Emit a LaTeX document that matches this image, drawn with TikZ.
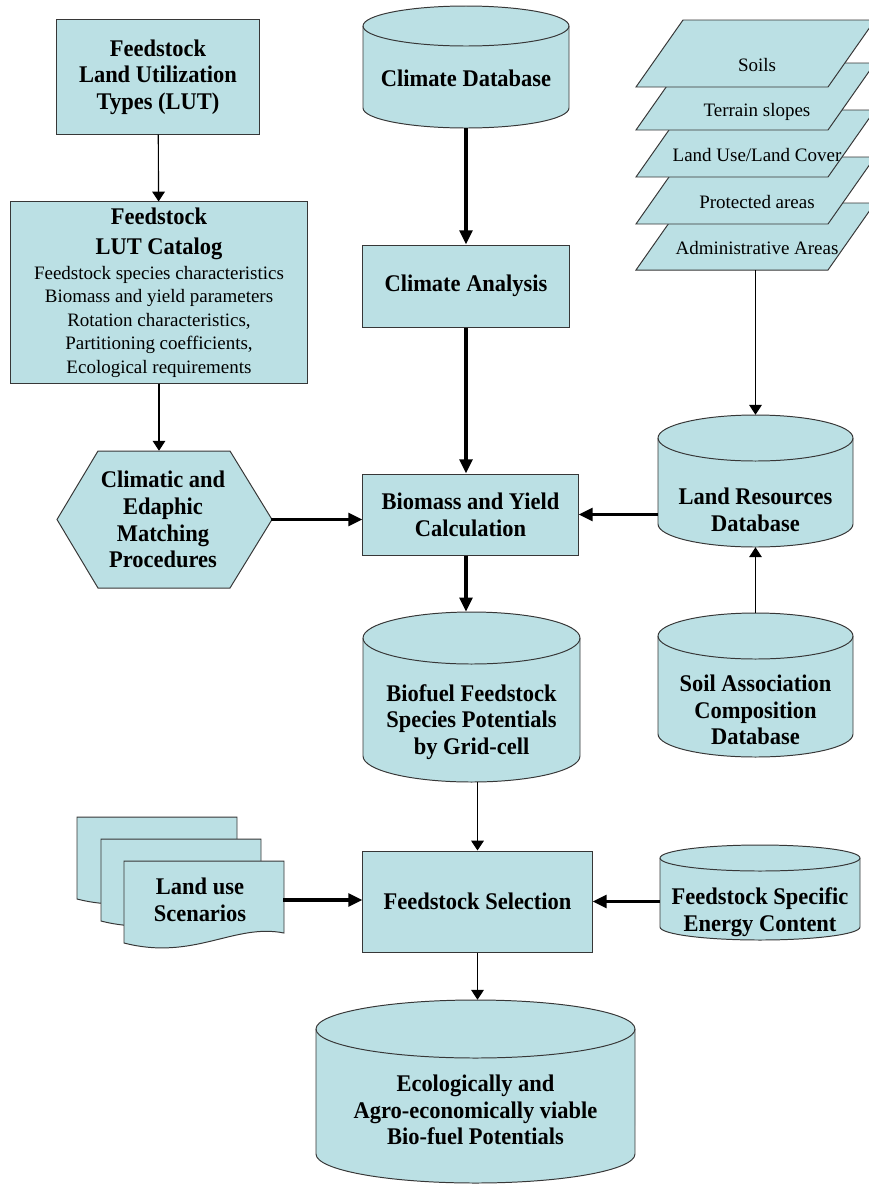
\documentclass[tikz,border=0pt]{standalone}
\usepackage{fontspec}
\setmainfont{Liberation Serif}
\newfontfamily\narrowserif[FakeStretch=0.94]{Liberation Serif}
\usetikzlibrary{arrows.meta}

\definecolor{boxfill}{RGB}{187,224,228}
\definecolor{edgegray}{RGB}{55,55,55}
\newcommand\ttlfont{\narrowserif\bfseries\fontsize{17}{19}\selectfont}
\newcommand\listfont{\normalfont\fontsize{13.5}{16.7}\selectfont}

\tikzset{
  box/.style={draw=edgegray, fill=boxfill, line width=0.7pt, align=center, font=\ttlfont},
  drumline/.style={draw=edgegray, line width=0.7pt},
  drumtext/.style={align=center, font=\ttlfont},
  layer/.style={draw=edgegray, fill=boxfill, line width=0.7pt},
  arr/.style={line width=0.8pt, -{Triangle[length=7pt,width=9pt]}},
  tarr/.style={line width=2.8pt, -{Triangle[length=10pt,width=9pt]}}
}

% drum: name, centre x, centre y, width, height, end radius (px)
\newcommand\drum[6]{%
  \filldraw[drumline, fill=boxfill] (#2-#4/2,#3-#5/2+#6) -- (#2-#4/2,#3+#5/2-#6)
    arc[start angle=180, end angle=360, x radius=#4*0.0125cm, y radius=#6*0.025cm]
    -- (#2+#4/2,#3-#5/2+#6)
    arc[start angle=0, end angle=180, x radius=#4*0.0125cm, y radius=#6*0.025cm] -- cycle;
  \draw[drumline] (#2-#4/2,#3-#5/2+#6)
    arc[start angle=180, end angle=360, x radius=#4*0.0125cm, y radius=#6*0.025cm];
  \node[inner sep=0pt, minimum width=#4*0.025cm, minimum height=#5*0.025cm] (#1) at (#2,#3) {};
}

\begin{document}
\begin{tikzpicture}[x=0.025cm, y=-0.025cm]
    \useasboundingbox (0,0) rectangle (869,1186);

    % left column
    \node[box, minimum width=5.05cm, minimum height=2.85cm] (lut) at (158,77) {Feedstock\\Land Utilization\\Types (LUT)};
    \node[box, minimum width=7.4cm, minimum height=4.525cm] (cat) at (159,292.5)
      {Feedstock\\[2.3pt] LUT Catalog\\[-1.2pt] \listfont Feedstock species characteristics\\[-2.3pt] \listfont Biomass and yield parameters\\[-2.3pt]
       \listfont Rotation characteristics,\\[-2.3pt] \listfont Partitioning coefficients,\\[-2.3pt] \listfont Ecological requirements};
    \draw[layer] (57,519.5) -- (98,451) -- (230,451) -- (272,519.5) -- (230,588) -- (98,588) -- cycle;
    \node[drumtext, minimum width=5.375cm, minimum height=3.425cm] (match) at (163,519.5) {Climatic and\\Edaphic\\Matching\\Procedures};

    % middle column
    \drum{climdb}{466}{67}{206}{122}{20}
    \node[drumtext] (climdbtxt) at (466,78) {Climate Database};
    \node[box, minimum width=5.15cm, minimum height=2.05cm] (climan) at (466,286) {Climate Analysis};
    \node[box, minimum width=5.375cm, minimum height=2.025cm] (bio) at (470.5,514.5) {Biomass and Yield\\Calculation};
    \drum{biof}{471.5}{697}{217}{170}{26}
    \node[drumtext] (bioftxt) at (471.5,722) {Biofuel Feedstock\\Species Potentials\\by Grid-cell};
    \node[box, minimum width=5.725cm, minimum height=2.525cm] (fs) at (477.5,901.5) {Feedstock Selection};
    \drum{eco}{475.5}{1091.5}{319}{183}{29}
    \node[drumtext] (ecotxt) at (475.5,1110) {Ecologically and\\Agro-economically viable\\Bio-fuel Potentials};

    % right column
    \foreach \n/\ty/\dy/\txt in {admin/203/45/Administrative Areas, prot/157/45/Protected areas,
                                luse/110/45/{Land Use/Land Cover}, terr/63/49/Terrain slopes, soils/20/45/Soils} {
      \draw[layer] (636,\ty+67) -- (828,\ty+67) -- (875,\ty) -- (683,\ty) -- cycle;
      \node[font=\listfont] (\n) at (757,\ty+\dy) {\txt};
    }
    \coordinate (adminbase) at (755.5,270);
    \drum{lres}{755.5}{481}{195}{132}{23}
    \node[drumtext] (lrestxt) at (755.5,510) {Land Resources\\Database};
    \drum{soil}{755.5}{685}{195}{144}{23}
    \node[drumtext] (soiltxt) at (755.5,710) {Soil Association\\Composition\\Database};
    \drum{energy}{760}{892.5}{200}{95}{13}
    \node[drumtext] (energytxt) at (760,912) {Feedstock Specific\\Energy Content};

    % scenarios
    \foreach \x/\y in {77/817, 101/839, 124/861} {
      \draw[layer] (\x,\y) -- (\x+160,\y) -- (\x+160,\y+72) .. controls (\x+110,\y+62) and (\x+70,\y+100) .. (\x,\y+82) -- cycle;
    }
    \node[drumtext, minimum width=4.15cm, minimum height=2.1cm] (scen) at (200,900) {Land use\\Scenarios};

    \draw[arr] (lut) -- (cat);
    \draw[arr] (cat.south) -- (cat.south |- match.north);
    \draw[tarr] (match.east) -- (match.east -| bio.west);
    \draw[tarr] (climdb.south -| climan.south) -- (climan.north);
    \draw[tarr] (climan.south) -- (climan.south |- bio.north);
    \draw[tarr] (climan.south |- bio.south) -- (climan.south |- biof.north);
    \draw[arr] (fs.north |- biof.south) -- (fs.north);
    \draw[arr] (fs.south) -- (fs.south |- eco.north);
    \draw[arr] (adminbase) -- (lres.north);
    \draw[arr] (soil.north) -- (lres.south);
    \draw[tarr] (lres.west |- bio.east) -- (bio.east);
    \draw[tarr] (scen.east) -- (scen.east -| fs.west);
    \draw[tarr] (energy.west |- fs.east) -- (fs.east);
  \end{tikzpicture}
\end{document}
